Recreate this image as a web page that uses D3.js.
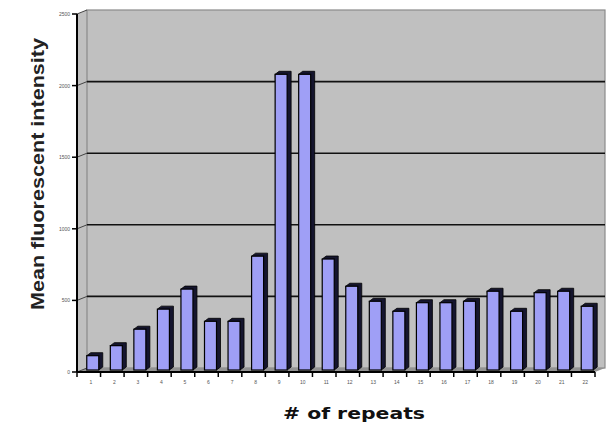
<!DOCTYPE html>
<html>
<head>
<meta charset="utf-8">
<script src="https://cdn.jsdelivr.net/npm/d3@7"></script>
<style>
  body { margin: 0; background: #fff; }
  svg { display: block; }
</style>
</head>
<body>
<svg></svg>
<script>
const width = 606;
const height = 428;

// values
const repeats = ["1", "2", "3", "4", "5", "6", "7", "8", "9", "10", "11",
  "12", "13", "14", "15", "16", "17", "18", "19", "20", "21", "22"];
const intensity = [100, 170, 285, 425, 565, 340, 340, 795, 2065, 2065, 775,
  585, 480, 410, 470, 470, 480, 550, 410, 540, 550, 445];
const yTicks = [0, 500, 1000, 1500, 2000, 2500];

const svg = d3.select("svg").attr("width", width).attr("height", height);

// front axes plus the 3D depth of the back wall
const plotLeft = 77, plotRight = 595, plotTop = 14, plotBottom = 372;
const depthX = 10, depthY = -4;

const x = d3.scaleBand().domain(repeats).range([plotLeft, plotRight]).padding(0);
const y = d3.scaleLinear().domain([0, 2500]).range([plotBottom, plotTop]);

// side wall, back wall, floor
svg.append("polygon")
  .attr("points", [[plotLeft, plotBottom], [plotLeft, plotTop], [plotLeft + depthX, plotTop + depthY], [plotLeft + depthX, plotBottom + depthY]].join(" "))
  .attr("fill", "#c0c0c0");

svg.append("rect")
  .attr("x", plotLeft + depthX)
  .attr("y", plotTop + depthY)
  .attr("width", plotRight - plotLeft)
  .attr("height", plotBottom - plotTop)
  .attr("fill", "#c0c0c0")
  .attr("stroke", "#8a8a8a")
  .attr("stroke-width", 1.2);

svg.append("polygon")
  .attr("points", [[plotLeft, plotBottom], [plotLeft + depthX, plotBottom + depthY], [plotRight + depthX, plotBottom + depthY], [plotRight, plotBottom]].join(" "))
  .attr("fill", "#929292");

// gridlines on the back wall with small diagonal links to the axis
const grid = svg.append("g");
grid.selectAll("line.grid")
  .data(yTicks.filter((d) => d > 0 && d < 2500))
  .enter()
  .append("line")
  .attr("class", "grid")
  .attr("x1", plotLeft + depthX)
  .attr("x2", plotRight + depthX)
  .attr("y1", (d) => y(d) + depthY)
  .attr("y2", (d) => y(d) + depthY)
  .attr("stroke", "#111")
  .attr("stroke-width", 1.6);

grid.selectAll("line.link")
  .data(yTicks)
  .enter()
  .append("line")
  .attr("class", "link")
  .attr("x1", plotLeft)
  .attr("x2", plotLeft + depthX)
  .attr("y1", (d) => y(d))
  .attr("y2", (d) => y(d) + depthY)
  .attr("stroke", "#444")
  .attr("stroke-width", 1);

// bars: dark top and side behind a light front face
const faceW = 12, barDx = 4, barDy = -3;
const barLeft = (d) => x(d) + x.bandwidth() / 2 - faceW / 2 + 4;

const bars = svg.append("g")
  .selectAll("g")
  .data(repeats.map((r, i) => ({ rep: r, val: intensity[i] })))
  .enter()
  .append("g")
  .attr("transform", "translate(0,-2)");

bars.append("polygon")
  .attr("points", (d) => {
    const x0 = barLeft(d.rep), x1 = x0 + faceW, y0 = y(d.val), y1 = y(0);
    return [[x0, y0], [x0 + barDx, y0 + barDy], [x1 + barDx, y0 + barDy], [x1 + barDx, y1 + barDy], [x1, y1]].join(" ");
  })
  .attr("fill", "#15152e")
  .attr("stroke", "#000")
  .attr("stroke-width", 0.8);

bars.append("rect")
  .attr("x", (d) => barLeft(d.rep))
  .attr("y", (d) => y(d.val))
  .attr("width", faceW)
  .attr("height", (d) => y(0) - y(d.val))
  .attr("fill", "#9f9ff6")
  .attr("stroke", "#000")
  .attr("stroke-width", 1.2);

// y axis
const yAxis = svg.append("g");
yAxis.append("line")
  .attr("x1", plotLeft).attr("x2", plotLeft)
  .attr("y1", plotTop).attr("y2", plotBottom)
  .attr("stroke", "#000").attr("stroke-width", 2);
yAxis.selectAll("line.tick")
  .data(yTicks)
  .enter()
  .append("line")
  .attr("class", "tick")
  .attr("x1", plotLeft - 5).attr("x2", plotLeft)
  .attr("y1", (d) => y(d)).attr("y2", (d) => y(d))
  .attr("stroke", "#000").attr("stroke-width", 1.5);
yAxis.selectAll("text")
  .data(yTicks)
  .enter()
  .append("text")
  .attr("x", plotLeft - 7)
  .attr("y", (d) => y(d) + 2)
  .attr("text-anchor", "end")
  .attr("font-family", "Liberation Sans, Arial, sans-serif")
  .attr("font-size", 5)
  .attr("fill", "#555")
  .text((d) => d);

// x axis
const xAxis = svg.append("g");
xAxis.append("line")
  .attr("x1", plotLeft).attr("x2", plotRight)
  .attr("y1", plotBottom).attr("y2", plotBottom)
  .attr("stroke", "#000").attr("stroke-width", 2);
xAxis.selectAll("line.tick")
  .data(repeats.concat(["end"]))
  .enter()
  .append("line")
  .attr("class", "tick")
  .attr("x1", (d) => (d === "end" ? plotRight : x(d)))
  .attr("x2", (d) => (d === "end" ? plotRight : x(d)))
  .attr("y1", plotBottom).attr("y2", plotBottom + 5)
  .attr("stroke", "#000").attr("stroke-width", 1.5);
xAxis.selectAll("text")
  .data(repeats)
  .enter()
  .append("text")
  .attr("x", (d) => x(d) + x.bandwidth() / 2 + 2)
  .attr("y", plotBottom + 12)
  .attr("text-anchor", "middle")
  .attr("font-family", "Liberation Sans, Arial, sans-serif")
  .attr("font-size", 5)
  .attr("fill", "#555")
  .text((d) => d);

// titles
svg.append("text")
  .attr("transform", "translate(44,174) rotate(-90)")
  .attr("text-anchor", "middle")
  .attr("font-family", "Liberation Sans, Arial, sans-serif")
  .attr("font-weight", "bold")
  .attr("font-size", 19)
  .attr("textLength", 272)
  .attr("lengthAdjust", "spacingAndGlyphs")
  .attr("fill", "#222")
  .text("Mean fluorescent intensity");

svg.append("text")
  .attr("x", 354)
  .attr("y", 419)
  .attr("text-anchor", "middle")
  .attr("font-family", "DejaVu Sans, Verdana, sans-serif")
  .attr("font-weight", "bold")
  .attr("font-size", 16)
  .attr("textLength", 142)
  .attr("lengthAdjust", "spacingAndGlyphs")
  .attr("fill", "#111")
  .text("# of repeats");
</script>
</body>
</html>
